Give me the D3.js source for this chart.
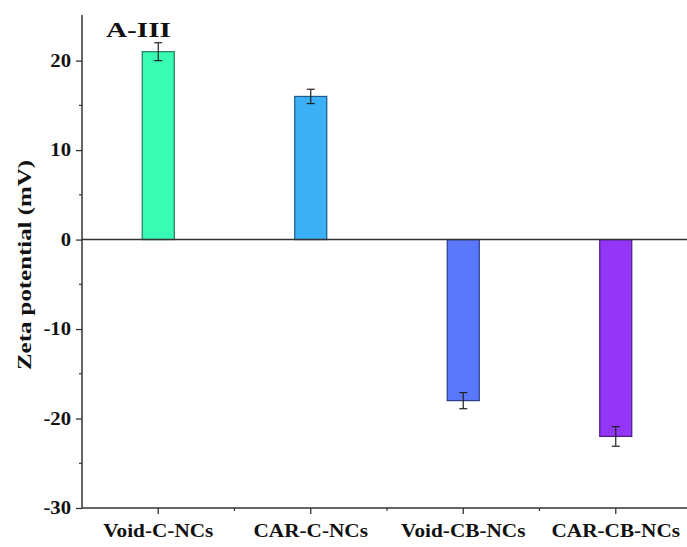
<!DOCTYPE html>
<html><head><meta charset="utf-8">
<script src="https://cdn.jsdelivr.net/npm/d3@7"></script>
<style>body{margin:0;background:#fff}</style>
</head><body>
<script>
const categories = ["Void-C-NCs","CAR-C-NCs","Void-CB-NCs","CAR-CB-NCs"];
const values = [21, 16, -18, -22];
const errors = [1.0, 0.8, 0.9, 1.1];
const colors = ["#38fcb4","#3cb0f6","#5a78fb","#9436f7"];
const strokes = ["#1e7a58","#1b5a86","#283c8a","#4a1a86"];
const yTicks = [-30,-20,-10,0,10,20];
const yMinor = [-25,-15,-5,5,15];

const W=687,H=547;
const svg=d3.select("body").append("svg").attr("width",W).attr("height",H);
const font="'Liberation Serif','Times New Roman',serif";
const stretch=1.18;

const y=d3.scaleLinear().domain([-30,25.1]).range([508,15]);
const x=d3.scaleBand().domain(categories).range([82,692]).paddingInner(0.79).paddingOuter(0.395);

// bars
svg.selectAll("rect.bar").data(values).join("rect")
 .attr("x",(d,i)=>x(categories[i])).attr("width",x.bandwidth())
 .attr("y",d=>y(Math.max(0,d))).attr("height",d=>Math.abs(y(d)-y(0)))
 .attr("fill",(d,i)=>colors[i]).attr("stroke",(d,i)=>strokes[i]).attr("stroke-width",1.2);

// error bars
const eg=svg.append("g").attr("stroke","#222").attr("stroke-width",1.2);
values.forEach((v,i)=>{
  const cx=x(categories[i])+x.bandwidth()/2;
  eg.append("line").attr("x1",cx).attr("x2",cx).attr("y1",y(v+errors[i])).attr("y2",y(v-errors[i]));
  [v+errors[i],v-errors[i]].forEach(e=>eg.append("line").attr("x1",cx-4).attr("x2",cx+4).attr("y1",y(e)).attr("y2",y(e)));
});

// zero line
svg.append("line").attr("x1",82).attr("x2",W).attr("y1",y(0)).attr("y2",y(0)).attr("stroke","#333").attr("stroke-width",1.5);

function widen(sel,f){
  sel.each(function(){const n=this; const w=n.getComputedTextLength(); d3.select(n).attr("textLength",w*f).attr("lengthAdjust","spacingAndGlyphs");});
}

// y axis
const ya=svg.append("g").attr("transform","translate(82,0)")
 .call(d3.axisLeft(y).tickValues(yTicks).tickSize(6).tickPadding(5).tickFormat(d3.format("d")));
ya.select(".domain").attr("d",`M0,${y(25.1)}V${y(-30)}`).attr("stroke","#333").attr("stroke-width",1.5);
ya.selectAll(".tick line").attr("stroke","#333").attr("stroke-width",1.3);
ya.selectAll("text").text(d=>String(d)).attr("font-family",font).attr("font-weight","bold").attr("font-size","18px").attr("fill","#111").call(widen,1.15);
ya.selectAll("line.minor").data(yMinor).join("line").attr("class","minor")
 .attr("x1",-3).attr("x2",0).attr("y1",d=>y(d)).attr("y2",d=>y(d)).attr("stroke","#333").attr("stroke-width",1.2);

// x axis
const xa=svg.append("g").attr("transform",`translate(0,${y(-30)})`)
 .call(d3.axisBottom(x).tickSize(6).tickPadding(4));
xa.select(".domain").attr("d",`M82,0H${W}`).attr("stroke","#333").attr("stroke-width",1.5);
xa.selectAll(".tick line").attr("stroke","#333").attr("stroke-width",1.3);
xa.selectAll("text").attr("font-family",font).attr("font-weight","bold").attr("font-size","18px").attr("fill","#111")
 .attr("dy",null).attr("y",29).call(widen,stretch);
const step=x.step();
xa.selectAll("line.minor").data(categories.slice(1)).join("line").attr("class","minor")
 .attr("x1",d=>x(d)+x.bandwidth()/2-step/2).attr("x2",d=>x(d)+x.bandwidth()/2-step/2).attr("y1",0).attr("y2",3)
 .attr("stroke","#333").attr("stroke-width",1.2);

// y title
svg.append("text").attr("transform",`translate(31,265) rotate(-90)`)
 .attr("text-anchor","middle")
 .attr("font-family",font).attr("font-weight","bold").attr("font-size","19px").attr("fill","#111")
 .attr("textLength",210).attr("lengthAdjust","spacingAndGlyphs")
 .text("Zeta potential (mV)");

// panel label
svg.append("text").attr("x",106).attr("y",37).attr("font-family",font).attr("font-weight","bold")
 .attr("font-size","21px").attr("fill","#111").attr("textLength",65).attr("lengthAdjust","spacingAndGlyphs").text("A-III");
</script>
</body></html>
